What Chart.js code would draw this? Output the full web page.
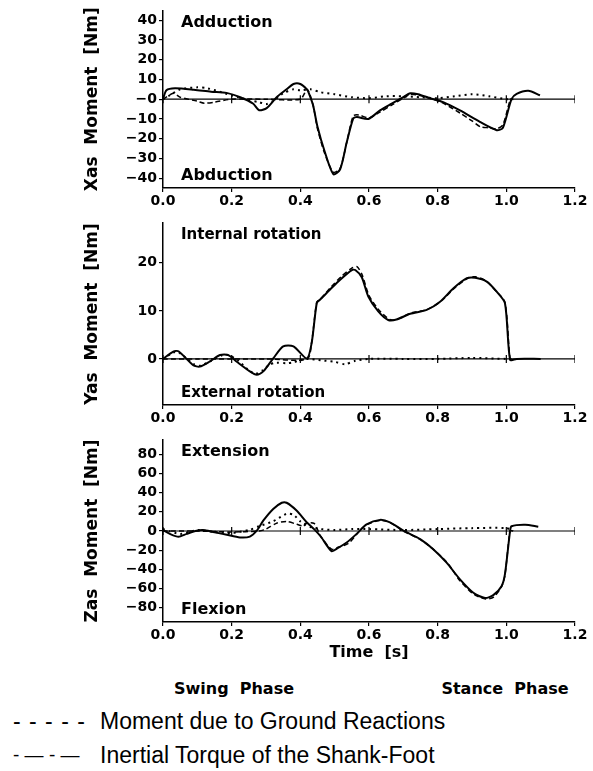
<!DOCTYPE html>
<html>
<head>
<meta charset="utf-8">
<script src="https://cdn.jsdelivr.net/npm/chart.js@4.4.1/dist/chart.umd.min.js"></script>
<style>
  body { margin: 0; background: #fff; }
  #wrap { position: relative; width: 593px; height: 771px; overflow: hidden; }
  canvas { position: absolute; left: 0; }
  .lbl { position: absolute; font-family: 'DejaVu Sans', sans-serif; font-weight: bold; font-size: 16px; color: #000; white-space: pre; transform: translate(-50%, -50%); }
  .leg { position: absolute; font-family: 'Liberation Sans', Arial, sans-serif; font-size: 23px; color: #000; white-space: pre; transform: translateY(-50%); }
</style>
</head>
<body>
<div id="wrap">
  <canvas id="cX" width="593" height="210" style="top:0"></canvas>
  <canvas id="cY" width="593" height="217" style="top:210px"></canvas>
  <canvas id="cZ" width="593" height="235" style="top:427px"></canvas>
  <div class="lbl" style="left:234px;top:688px">Swing  Phase</div>
  <div class="lbl" style="left:505px;top:688px">Stance  Phase</div>
  <div class="leg" style="left:13px;top:721px;letter-spacing:1px">- - - - -</div>
  <div class="leg" style="left:100px;top:721px">Moment due to Ground Reactions</div>
  <div class="leg" style="left:13px;top:755px;font-size:19px">- — - —</div>
  <div class="leg" style="left:100px;top:755px">Inertial Torque of the Shank-Foot</div>
</div>
<script>
var xTicks = [0, 0.2, 0.4, 0.6, 0.8, 1.0, 1.2];

// Xas moment (top panel)
var xasTicks = [-40, -30, -20, -10, 0, 10, 20, 30, 40];
var xasTickLabels = ["−40", "−30", "−20", "−10", "−0", "10", "20", "30", "40"];
var xasTotalT = [0, 0.01, 0.035, 0.09, 0.14, 0.185, 0.225, 0.263, 0.28, 0.302, 0.331, 0.36, 0.38, 0.40, 0.419, 0.425, 0.437, 0.45, 0.47, 0.496, 0.516, 0.535, 0.554, 0.565, 0.598, 0.632, 0.666, 0.70, 0.72, 0.743, 0.778, 0.816, 0.865, 0.923, 0.972, 0.99, 1.015, 1.03, 1.064, 1.098];
var xasTotalV = [0, 4.5, 5.5, 4.8, 3.8, 3.2, 1, -2.3, -5.6, -4.5, 1, 5, 7.7, 7.7, 5, 3, -3, -14, -26, -38, -35.5, -22, -9.8, -9, -10, -5.7, -2.3, 1, 3, 2.5, 0.5, -1.5, -5.7, -11.5, -15.7, -14.5, 0, 2.7, 4.3, 2];
var xasGroundT = [0, 0.03, 0.05, 0.1, 0.12, 0.15, 0.2, 0.3, 0.4, 0.42, 0.437, 0.45, 0.47, 0.496, 0.516, 0.535, 0.554, 0.57, 0.6, 0.632, 0.666, 0.70, 0.72, 0.743, 0.778, 0.816, 0.865, 0.9, 0.925, 0.95, 0.972, 0.99, 1.012, 1.02];
var xasGroundV = [0, 3, 1, -1, -2, -1.5, 0, 0, 0, 5, -3, -15, -27, -37, -35, -22, -8.5, -8, -9.5, -6.5, -3, 0.5, 2.5, 2, 0.5, -2, -7, -11, -14, -14.5, -15, -13, 0, 0];
var xasInertT = [0, 0.02, 0.05, 0.1, 0.13, 0.18, 0.22, 0.25, 0.28, 0.3, 0.32, 0.35, 0.38, 0.4, 0.43, 0.46, 0.5, 0.55, 0.6, 0.65, 0.7, 0.75, 0.8, 0.85, 0.9, 0.95, 1.0, 1.02];
var xasInertV = [0, 2, 5, 6, 5.5, 3, 1, -0.5, -1.5, -2.5, -1, 3, 5, 4.5, 5, 3.5, 2.5, 1, 0.5, 1.5, 1.5, 1, 0.5, 1.5, 2.5, 1.5, 0, 0];

// Yas moment (middle panel)
var yasTicks = [0, 10, 20];
var yasTickLabels = ["0", "10", "20"];
var yasTotalT = [0, 0.03, 0.045, 0.088, 0.107, 0.137, 0.166, 0.19, 0.215, 0.253, 0.273, 0.292, 0.321, 0.35, 0.38, 0.419, 0.433, 0.448, 0.457, 0.486, 0.516, 0.55, 0.56, 0.579, 0.598, 0.627, 0.656, 0.68, 0.72, 0.768, 0.807, 0.846, 0.885, 0.909, 0.943, 0.972, 0.996, 1.011, 1.03, 1.1];
var yasTotalV = [0, 1.5, 1.6, -1.3, -1.6, -0.5, 0.8, 0.8, -0.6, -2.6, -3.3, -2.6, 0.1, 2.6, 2.6, 0.1, 3.3, 11.7, 12.3, 14.4, 16.5, 18.5, 18.5, 17, 13, 9.9, 8.1, 8.2, 9.4, 10.2, 11.9, 14.7, 16.8, 16.9, 16.1, 14, 11.6, -0.2, 0, 0];
var yasGroundT = [0, 0.1, 0.2, 0.3, 0.42, 0.433, 0.448, 0.46, 0.49, 0.52, 0.55, 0.565, 0.58, 0.6, 0.63, 0.66, 0.68, 0.72, 0.77, 0.81, 0.85, 0.89, 0.91, 0.94, 0.97, 0.996, 1.011, 1.02];
var yasGroundV = [0, 0, 0, 0, 0, 3.5, 11.8, 12.6, 15, 17.2, 18.9, 19.2, 17.5, 13.2, 10.1, 8.2, 8.2, 9.5, 10.3, 12, 14.8, 16.9, 17.1, 16.3, 14.1, 11.8, 0, 0];
var yasInertT = [0, 0.03, 0.045, 0.09, 0.11, 0.14, 0.17, 0.19, 0.22, 0.25, 0.27, 0.29, 0.31, 0.33, 0.36, 0.38, 0.4, 0.42, 0.46, 0.5, 0.53, 0.56, 0.6, 0.7, 0.8, 0.9, 1.0, 1.02];
var yasInertV = [0, 1.3, 1.4, -1.1, -1.4, -0.4, 0.7, 0.8, -0.4, -2.4, -3.1, -2.4, -1.2, -0.8, -0.9, -0.7, -0.3, 0, -0.3, -0.6, -1.1, -0.4, 0, 0, 0, 0.2, 0, 0];

// Zas moment (bottom panel)
var zasTicks = [-80, -60, -40, -20, 0, 20, 40, 60, 80];
var zasTickLabels = ["−80", "−60", "−40", "−20", "0", "20", "40", "60", "80"];
var zasTotalT = [0, 0.02, 0.045, 0.069, 0.098, 0.117, 0.146, 0.186, 0.224, 0.253, 0.273, 0.292, 0.321, 0.346, 0.36, 0.389, 0.419, 0.44, 0.46, 0.491, 0.51, 0.535, 0.564, 0.593, 0.632, 0.661, 0.70, 0.749, 0.787, 0.826, 0.865, 0.904, 0.938, 0.962, 0.986, 0.996, 1.011, 1.015, 1.055, 1.093];
var zasTotalV = [1, -3, -6, -3, 0.3, 1, -1, -4, -6.7, -5.8, 0.3, 10.8, 23, 29.5, 29.5, 21.4, 9, 2, -6, -21, -17.6, -12, -3, 7, 11.6, 9, 0.4, -8.4, -19, -33, -50.5, -64.5, -70, -67, -57.6, -45, 0.3, 5, 6.6, 4.5];
var zasGroundT = [0, 0.1, 0.2, 0.28, 0.3, 0.33, 0.36, 0.39, 0.41, 0.415, 0.44, 0.46, 0.491, 0.51, 0.54, 0.565, 0.59, 0.63, 0.66, 0.7, 0.75, 0.79, 0.83, 0.865, 0.905, 0.94, 0.963, 0.986, 0.996, 1.011, 1.02];
var zasGroundV = [0, 0, -1, 0, 2, 8, 10, 7, 5, 8, 8, -6, -19, -17, -13, -3, 6, 11, 9, 0, -9, -20, -34, -52, -66, -71, -69, -58, -46, 0, 0];
var zasInertT = [0, 0.05, 0.1, 0.15, 0.2, 0.25, 0.28, 0.32, 0.36, 0.38, 0.4, 0.43, 0.46, 0.5, 0.55, 0.6, 0.7, 0.8, 0.9, 1.0, 1.02];
var zasInertV = [2, -3, 1, -1, -2, 1, 5, 10, 18, 17, 10, 4, 2, 1, 2, 2, 1, 2, 3, 3, 0];

var fam = "'DejaVu Sans', sans-serif";

function pts(t, v) {
  return t.map(function (x, i) { return { x: x, y: v[i] }; });
}

// draws the two direction words inside each panel
var cornerLabels = {
  id: 'corner',
  afterDatasetsDraw: function (chart, args, o) {
    var a = chart.chartArea, ctx = chart.ctx;
    ctx.save();
    ctx.fillStyle = '#000';
    ctx.font = 'bold ' + o.size + 'px ' + fam;
    ctx.textBaseline = 'middle';
    ctx.fillText(o.top, a.left + 18, a.top + 12);
    ctx.fillText(o.bottom, a.left + 18, a.bottom - 12);
    ctx.restore();
  }
};

function makeChart(id, total, ground, inert, yMin, yMax, yTicks, yLabels, yTitle, corner, topPad, xh, xTitle) {
  var sets = [
    { data: total, borderColor: '#000', borderWidth: 2, pointRadius: 0, tension: 0.25 },
    { data: ground, borderColor: '#000', borderWidth: 1.5, borderDash: [5, 3], pointRadius: 0, tension: 0.25 },
    { data: inert, borderColor: '#000', borderWidth: 2, borderDash: [2, 4], pointRadius: 0, tension: 0.25 },
    { data: xTicks.map(function (t) { return { x: t, y: 0 }; }), borderColor: '#000', borderWidth: 1.2,
      pointStyle: 'line', rotation: 90, pointRadius: 4, pointBorderWidth: 1.2, pointBorderColor: '#000' }
  ];
  return new Chart(document.getElementById(id), {
    type: 'line',
    data: { datasets: sets },
    options: {
      responsive: false,
      animation: false,
      layout: { padding: { left: 82, right: 18, top: topPad, bottom: 0 }, autoPadding: false },
      plugins: {
        legend: { display: false },
        tooltip: { enabled: false },
        corner: corner
      },
      scales: {
        x: {
          type: 'linear', min: 0, max: 1.2,
          afterBuildTicks: function (s) { s.ticks = xTicks.map(function (v) { return { value: v }; }); },
          afterFit: function (s) { s.height = xh; },
          ticks: { callback: function (v) { return v.toFixed(1); }, color: '#000', padding: 1,
                   maxRotation: 0, autoSkip: false, font: { family: fam, weight: 'bold', size: 14 } },
          grid: { drawOnChartArea: false, color: '#000', tickLength: 4, lineWidth: 1.2 },
          border: { color: '#000', width: 1.5 },
          title: { display: !!xTitle, text: xTitle || '', color: '#000', padding: 0,
                   font: { family: fam, weight: 'bold', size: 16 } }
        },
        y: {
          min: yMin, max: yMax,
          afterBuildTicks: function (s) { s.ticks = yTicks.map(function (v) { return { value: v }; }); },
          afterFit: function (s) { s.width = 81; },
          ticks: { callback: function (v, i) { return yLabels[i]; }, color: '#000', padding: 2,
                   font: { family: fam, weight: 'bold', size: 14 } },
          grid: { drawOnChartArea: false, color: '#000', tickLength: 4, lineWidth: 1.2 },
          border: { color: '#000', width: 1.5 },
          title: { display: true, text: yTitle, color: '#000', padding: 0,
                   font: { family: fam, weight: 'bold', size: 17 } }
        }
      }
    },
    plugins: [cornerLabels]
  });
}

makeChart('cX', pts(xasTotalT, xasTotalV), pts(xasGroundT, xasGroundV), pts(xasInertT, xasInertV),
  -45, 45, xasTicks, xasTickLabels, 'Xas  Moment  [Nm]',
  { top: 'Adduction', bottom: 'Abduction', size: 16 }, 7, 22);

makeChart('cY', pts(yasTotalT, yasTotalV), pts(yasGroundT, yasGroundV), pts(yasInertT, yasInertV),
  -9.6, 28.3, yasTicks, yasTickLabels, 'Yas  Moment  [Nm]',
  { top: 'Internal rotation', bottom: 'External rotation', size: 15 }, 13, 22);

makeChart('cZ', pts(zasTotalT, zasTotalV), pts(zasGroundT, zasGroundV), pts(zasInertT, zasInertV),
  -95, 95, zasTicks, zasTickLabels, 'Zas  Moment  [Nm]',
  { top: 'Extension', bottom: 'Flexion', size: 16 }, 13, 40, 'Time  [s]');
</script>
</body>
</html>
